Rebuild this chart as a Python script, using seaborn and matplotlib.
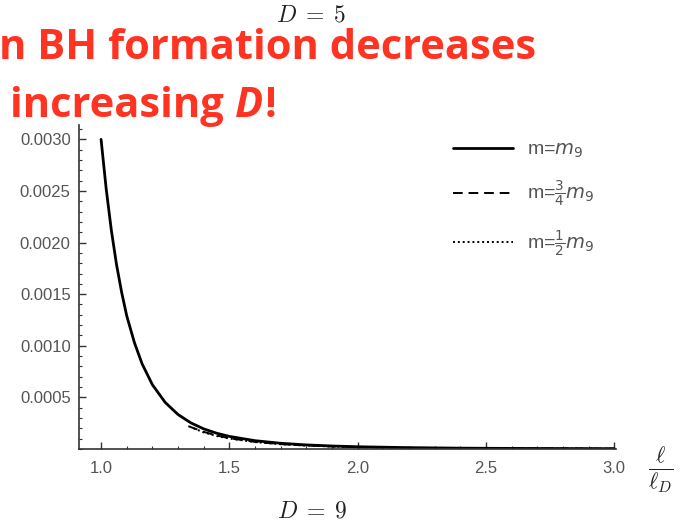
import matplotlib
matplotlib.use("Agg")
import matplotlib.pyplot as plt
from matplotlib.ticker import MultipleLocator, FormatStrFormatter
import seaborn as sns
import pandas as pd

# Series: l / l_D and the formation quantity
x_m9 = [1.00, 1.02, 1.04, 1.06, 1.08, 1.10, 1.13, 1.16, 1.20, 1.25, 1.30,
        1.35, 1.40, 1.45, 1.50, 1.60, 1.70, 1.80, 1.90, 2.00, 2.20, 2.40,
        2.60, 2.80, 3.00]
y_m9 = [0.00300, 0.00252, 0.00212, 0.00179, 0.00152, 0.00129, 0.00103,
        0.000824, 0.000622, 0.000450, 0.000333, 0.000252, 0.000194,
        0.000152, 0.000121, 0.0000794, 0.0000543, 0.0000383, 0.0000278,
        0.0000206, 0.0000118, 0.0000070, 0.0000043, 0.0000028, 0.0000019]

x_m34 = [1.34, 1.40, 1.45, 1.50, 1.60, 1.70, 1.80, 1.90, 2.00, 2.20, 2.50,
         3.00]
y_m34 = [0.00022, 0.000165, 0.00013, 0.000103, 0.000068, 0.000046,
         0.000033, 0.000024, 0.000018, 0.00001, 0.000005, 0.0000016]

x_m12 = [1.36, 1.40, 1.45, 1.50, 1.60, 1.70, 1.80, 1.90, 2.00, 2.20, 2.50,
         3.00]
y_m12 = [0.0002, 0.00016, 0.000125, 0.0001, 0.000066, 0.000045, 0.000032,
         0.000023, 0.000017, 0.0000095, 0.0000048, 0.0000015]

labels = [r"m=$m_9$", r"m=$\frac{3}{4}m_9$", r"m=$\frac{1}{2}m_9$"]
x_ticks = [1.0, 1.5, 2.0, 2.5, 3.0]
y_ticks = [0.0005, 0.0010, 0.0015, 0.0020, 0.0025, 0.0030]

sns.set_theme(style="white")
plt.rcParams["font.family"] = ["Liberation Sans", "DejaVu Sans"]

W, H = 681, 525
fig = plt.figure(figsize=(W / 100, H / 100), dpi=100)
ax = fig.add_axes([0.116, 0.145, 0.789, 0.617])

frames = [
    pd.DataFrame({"x": x_m9, "y": y_m9}),
    pd.DataFrame({"x": x_m34, "y": y_m34}),
    pd.DataFrame({"x": x_m12, "y": y_m12}),
]
styles = [
    dict(linestyle="-", linewidth=2.0),
    dict(linestyle=(0, (5, 3)), linewidth=1.4),
    dict(linestyle=(0, (1, 1.5)), linewidth=1.4),
]
for df, lab, st in zip(frames, labels, styles):
    sns.lineplot(data=df, x="x", y="y", ax=ax, color="black", label=lab,
                 estimator=None, sort=True, **st)

ax.set_xlim(0.914, 3.008)
ax.set_ylim(0, 0.00314)
ax.set_xticks(x_ticks)
ax.set_yticks(y_ticks)
ax.xaxis.set_minor_locator(MultipleLocator(0.1))
ax.yaxis.set_minor_locator(MultipleLocator(0.0001))
ax.yaxis.set_major_formatter(FormatStrFormatter("%.4f"))
ax.xaxis.set_major_formatter(FormatStrFormatter("%.1f"))
ax.set_xlabel("")
ax.set_ylabel("")

for side in ["top", "right"]:
    ax.spines[side].set_visible(False)
for side in ["left", "bottom"]:
    ax.spines[side].set_color("#333333")
    ax.spines[side].set_linewidth(1.2)

ax.tick_params(which="major", direction="in", length=5, width=1.0,
               color="#333333", labelsize=12, labelcolor="#555555",
               left=True, bottom=True)
ax.tick_params(axis="y", which="major", pad=6)
ax.tick_params(axis="x", which="major", pad=9)
ax.tick_params(which="minor", direction="in", length=2.5, width=0.8,
               color="#333333", left=True, bottom=True)

leg = ax.legend(loc="upper left", bbox_to_anchor=(453 / W, 1 - 141 / H),
                bbox_transform=fig.transFigure, frameon=False,
                fontsize=14, handlelength=3.1, handletextpad=0.72,
                labelspacing=1.0, borderaxespad=0.0, borderpad=0.0)
for t in leg.get_texts():
    t.set_color("#555555")
    t.set_math_fontfamily("dejavusans")

# Slide annotations around the plot
fig.text(311 / W, 1 - 15 / H, r"$D\;=\;5$", fontsize=17, ha="center",
         va="center", color="#222222", math_fontfamily="cm")
fig.text(312 / W, 1 - 512 / H, r"$D\;=\;9$", fontsize=17, ha="center",
         va="center", color="#222222", math_fontfamily="cm")
fig.text(661 / W, 1 - 471 / H, r"$\frac{\ell}{\ell_D}$", fontsize=23,
         ha="center", va="center", color="#222222", math_fontfamily="cm")

red = "#ff3322"
head_font = ["Open Sans", "DejaVu Sans"]
head_size = 30
fig.text(-1 / W, 1 - 59 / H, "n BH formation decreases", fontsize=head_size,
         fontweight="bold", color=red, ha="left", va="baseline",
         family=head_font)

# second headline line: upright, italic D, upright "!" set side by side
fig.canvas.draw()
renderer = fig.canvas.get_renderer()
x_cursor = 10 / W
base2 = 1 - 117 / H
for piece, sty in [("increasing ", "normal"), ("D", "italic"), ("!", "normal")]:
    t = fig.text(x_cursor, base2, piece, fontsize=head_size, fontweight="bold",
                 style=sty, color=red, ha="left", va="baseline",
                 family=head_font)
    bb = t.get_window_extent(renderer)
    x_cursor = bb.x1 / W + (1.5 / W if sty == "italic" else 0)

fig.savefig("out.png", dpi=100)
